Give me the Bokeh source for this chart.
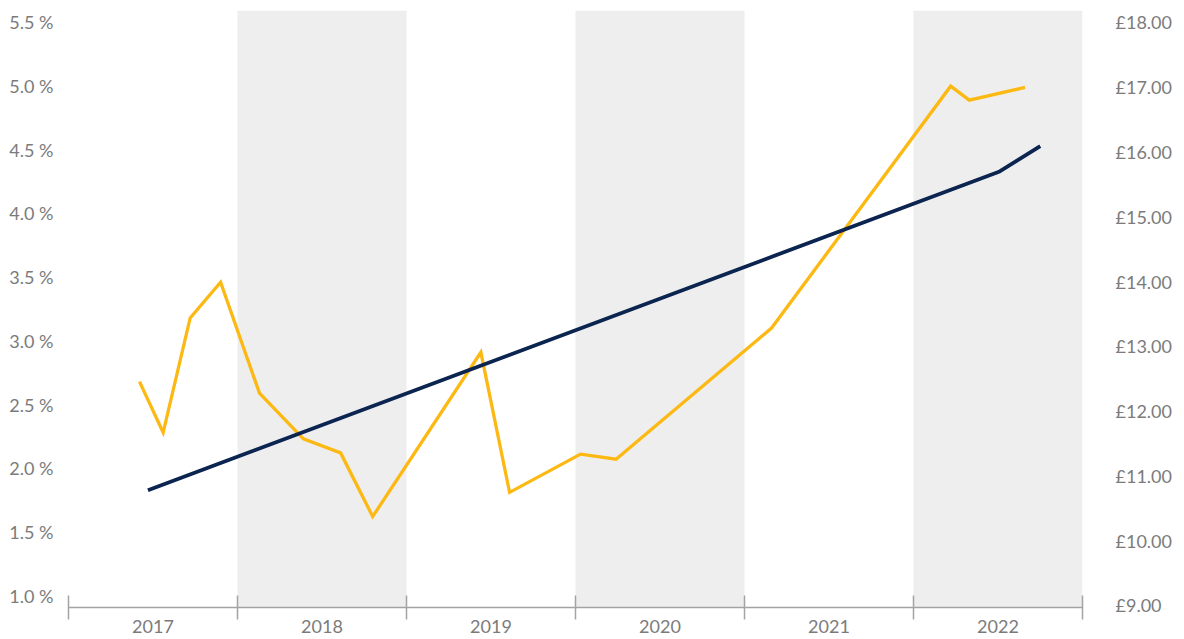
from bokeh.plotting import figure
from bokeh.models import (Range1d, LinearAxis, FixedTicker, PrintfTickFormatter,
                          BoxAnnotation)
from bokeh.embed import file_html
from bokeh.resources import INLINE

# ---- data ----
years = [2017, 2018, 2019, 2020, 2021, 2022]
shaded_years = [2018, 2020, 2022]

# yellow series: percentage (left axis), x in decimal years
pct_x = [2017.42, 2017.56, 2017.72, 2017.90, 2018.13, 2018.39, 2018.61, 2018.80,
         2019.44, 2019.61, 2020.03, 2020.24, 2021.16, 2022.22, 2022.33, 2022.66]
pct_y = [2.68, 2.28, 3.18, 3.46, 2.59, 2.23, 2.12, 1.62,
         2.91, 1.81, 2.11, 2.07, 3.10, 5.00, 4.89, 4.99]

# navy series: pounds (right axis)
gbp_x = [2017.47, 2022.51, 2022.75]
gbp_y = [10.78, 15.70, 16.09]

left_ticks = [1.0, 1.5, 2.0, 2.5, 3.0, 3.5, 4.0, 4.5, 5.0, 5.5]
right_ticks = [9, 10, 11, 12, 13, 14, 15, 16, 17, 18]

FONT = "Lato"
TXT = "#7b7b7b"
AX = "#a3a3a3"
YELLOW = "#FDB913"
NAVY = "#0B2550"

p = figure(width=1184, height=639, output_backend="svg", toolbar_location=None,
           x_range=Range1d(2017, 2023), y_range=Range1d(0.9058, 5.5942),
           min_border_left=68, min_border_right=102, min_border_top=10,
           min_border_bottom=32, x_axis_location=None, y_axis_location=None)
p.outline_line_color = None
p.xgrid.visible = False
p.ygrid.visible = False
p.background_fill_color = "white"
p.border_fill_color = "white"

p.extra_y_ranges = {"gbp": Range1d(8.969, 18.185)}

for yr in shaded_years:
    p.add_layout(BoxAnnotation(left=yr, right=yr + 1, fill_color="#eeeeee",
                               fill_alpha=1.0, line_color=None, level="underlay"))

# left axis
la = LinearAxis(ticker=FixedTicker(ticks=left_ticks),
                formatter=PrintfTickFormatter(format="%.1f %%"))
la.axis_line_color = None
la.major_tick_line_color = None
la.minor_tick_line_color = None
la.major_tick_out = 0
la.major_tick_in = 0
la.major_label_standoff = 15
la.major_label_text_font = FONT
la.major_label_text_font_size = "18px"
la.major_label_text_color = TXT
p.add_layout(la, "left")

# right axis
ra = LinearAxis(y_range_name="gbp", ticker=FixedTicker(ticks=right_ticks),
                formatter=PrintfTickFormatter(format="£%.2f"))
ra.axis_line_color = None
ra.major_tick_line_color = None
ra.minor_tick_line_color = None
ra.major_tick_out = 0
ra.major_tick_in = 0
ra.major_label_standoff = 33
ra.major_label_text_font = FONT
ra.major_label_text_font_size = "18px"
ra.major_label_text_color = TXT
p.add_layout(ra, "right")

# bottom axis: labels centred in each year, boundary tick marks as minor ticks
centers = [y + 0.5 for y in years]
bounds = years + [years[-1] + 1]
ba = LinearAxis(ticker=FixedTicker(ticks=centers, minor_ticks=bounds))
ba.major_label_overrides = {c: str(y) for c, y in zip(centers, years)}
ba.axis_line_color = AX
ba.axis_line_width = 1.5
ba.major_tick_line_color = None
ba.major_tick_out = 0
ba.major_tick_in = 0
ba.minor_tick_line_color = AX
ba.minor_tick_line_width = 1.5
ba.minor_tick_in = 12
ba.minor_tick_out = 12
ba.major_label_standoff = 0
ba.major_label_text_font = FONT
ba.major_label_text_font_size = "18px"
ba.major_label_text_color = TXT
p.add_layout(ba, "below")

p.line(pct_x, pct_y, line_color=YELLOW, line_width=3.3, line_join="miter")
p.line(gbp_x, gbp_y, line_color=NAVY, line_width=3.8, y_range_name="gbp")

open("out.html", "w").write(file_html(p, INLINE))
